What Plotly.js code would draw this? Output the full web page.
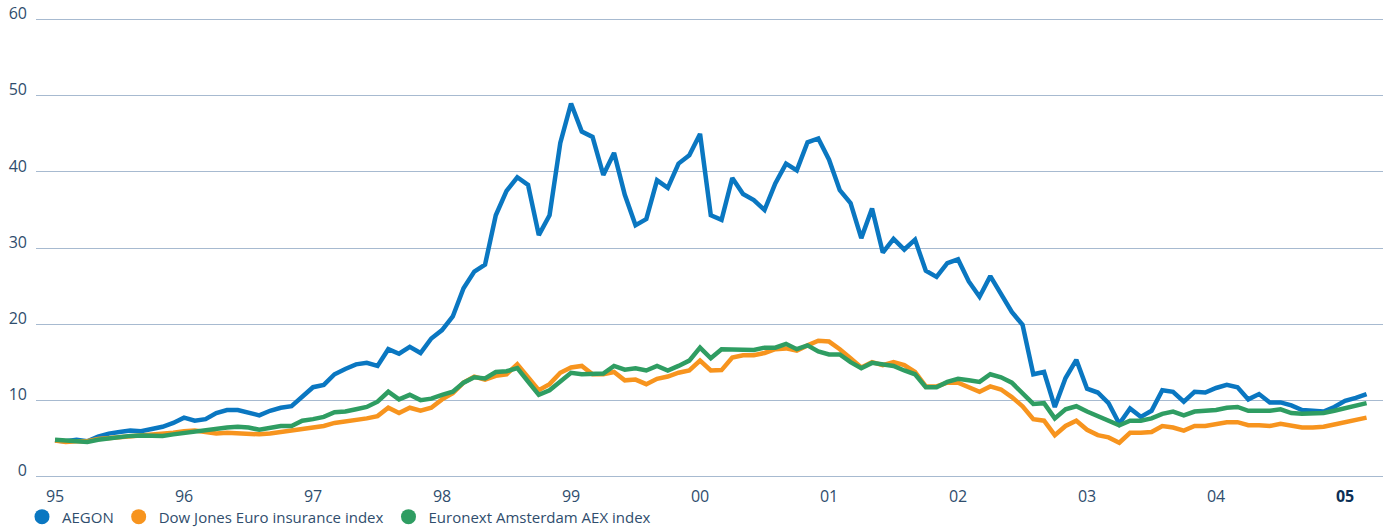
<!DOCTYPE html>
<html>
<head>
<meta charset="utf-8">
<script src="https://cdn.plot.ly/plotly-3.0.1.min.js"></script>
<style>
html,body{margin:0;padding:0;background:#fff;}
#chart{width:1394px;height:531px;}
</style>
</head>
<body>
<div id="chart"></div>
<script>
// Monthly values, January 1995 to March 2005
var yearLabels = ['95','96','97','98','99','00','01','02','03','04','05'];

var aegon = [
 4.7,4.6,4.8,4.6,5.2,5.6,5.8,6.0,5.9,6.2,6.5,7.0,
 7.7,7.3,7.5,8.3,8.7,8.7,8.3,8.0,8.6,9.0,9.2,10.4,
 11.7,12.0,13.4,14.1,14.7,14.9,14.5,16.7,16.1,17.0,16.2,18.1,
 19.2,21.0,24.7,26.9,27.8,34.3,37.5,39.3,38.3,31.7,34.3,43.8,
 49.0,45.3,44.6,39.6,42.5,37.0,33.0,33.8,38.9,37.9,41.1,42.2,
 45.0,34.3,33.7,39.2,37.1,36.3,35.0,38.5,41.1,40.2,43.9,44.4,
 41.6,37.6,35.9,31.3,35.2,29.4,31.2,29.8,31.1,27.0,26.2,28.0,
 28.5,25.6,23.6,26.3,23.9,21.6,19.9,13.4,13.7,9.1,12.9,15.3,
 11.5,11.0,9.6,6.9,8.9,7.8,8.6,11.3,11.1,9.8,11.1,11.0,
 11.6,12.0,11.7,10.1,10.8,9.7,9.7,9.3,8.7,8.6,8.5,9.1,
 9.9,10.3,10.8
];

var dowJones = [
 4.7,4.5,4.6,4.6,4.9,5.0,5.2,5.3,5.4,5.5,5.6,5.7,
 5.9,6.0,5.8,5.6,5.7,5.6,5.5,5.5,5.6,5.8,5.9,6.2,
 6.4,6.6,7.0,7.2,7.3,7.6,7.9,9.0,8.3,9.0,8.6,9.0,
 10.1,10.9,12.3,13.1,12.7,13.2,13.4,14.7,13.0,11.3,12.1,13.6,
 14.3,14.5,13.4,13.4,13.7,12.6,12.7,12.1,12.8,13.1,13.6,13.9,
 15.2,13.9,13.95,15.6,15.9,15.9,16.2,16.7,16.8,16.5,17.2,17.8,
 17.7,16.7,15.5,14.3,15.0,14.6,15.0,14.6,13.7,11.8,11.8,12.3,
 12.3,11.7,11.1,11.8,11.4,10.4,9.2,7.5,7.3,5.4,6.6,7.3,
 6.1,5.4,5.1,4.4,5.7,5.7,5.8,6.6,6.4,6.0,6.6,6.6,
 6.9,7.1,7.1,6.7,6.7,6.6,6.9,6.6,6.4,6.4,6.5,6.8,
 7.1,7.3,7.7
];

var aex = [
 4.8,4.7,4.7,4.5,4.8,5.0,5.1,5.3,5.35,5.35,5.3,5.5,
 5.7,5.8,6.0,6.2,6.4,6.5,6.4,6.1,6.3,6.6,6.6,7.3,
 7.5,7.8,8.4,8.5,8.8,9.1,9.8,11.1,10.1,10.7,10.0,10.2,
 10.7,11.1,12.3,13.0,12.85,13.7,13.8,14.2,12.45,10.7,11.3,12.4,
 13.6,13.4,13.5,13.5,14.5,14.0,14.2,13.9,14.5,13.9,14.5,15.2,
 16.9,15.5,16.7,16.7,16.7,16.6,16.9,16.9,17.4,16.7,17.2,16.4,
 16.0,16.0,15.0,14.2,14.9,14.7,14.5,13.9,13.4,11.7,11.7,12.4,
 12.8,12.6,12.4,13.4,13.0,12.3,10.9,9.5,9.6,7.6,8.8,9.2,
 8.5,7.9,7.4,6.7,7.3,7.3,7.6,8.2,8.5,8.0,8.5,8.6,
 8.7,9.0,9.1,8.6,8.6,8.6,8.8,8.3,8.2,8.2,8.3,8.6,
 8.9,9.2,9.6
];

var seriesNames = ['AEGON','Dow Jones Euro insurance index','Euronext Amsterdam AEX index'];
var seriesColors = ['#0a77c1','#f7941e','#2f9d62'];

// month index positions on the x axis
var months = aegon.map(function(_, i){ return i; });
var tickVals = yearLabels.map(function(_, k){ return k * 12; });
var tickText = yearLabels.map(function(t, k){
  return k === yearLabels.length - 1 ? '<b><span style="color:#0d2f55">' + t + '</span></b>' : t;
});

var data = [aegon, dowJones, aex];
var traces = [];
data.forEach(function(vals, k){
  traces.push({
    x: months, y: vals, type: 'scatter', mode: 'lines',
    line: {color: seriesColors[k], width: 4.5, shape: 'linear'},
    showlegend: false, hoverinfo: 'skip'
  });
});
seriesNames.forEach(function(name, k){
  traces.push({
    x: [null], y: [null], type: 'scatter', mode: 'markers', name: name,
    marker: {color: seriesColors[k], size: 15, symbol: 'circle'},
    showlegend: true
  });
});

var fontFamily = '"Open Sans", "Noto Sans", sans-serif';
var textColor = '#2f4d6d';

var layout = {
  width: 1394, height: 531,
  margin: {l: 36, r: 11, t: 16.2, b: 51.2, pad: 0, autoexpand: false},
  paper_bgcolor: '#ffffff', plot_bgcolor: '#ffffff',
  showlegend: true,
  legend: {
    orientation: 'h', x: -0.0104, xanchor: 'left', y: -0.044, yanchor: 'top',
    font: {family: fontFamily, size: 15, color: textColor},
    itemwidth: 30, tracegroupgap: 0, bgcolor: 'rgba(0,0,0,0)'
  },
  xaxis: {
    range: [-1.77, 123.53], showgrid: false, zeroline: false, showline: false,
    tickmode: 'array', tickvals: tickVals, ticktext: tickText,
    ticks: 'outside', ticklen: 2, tickcolor: 'rgba(0,0,0,0)',
    tickfont: {family: fontFamily, size: 16, color: textColor},
    fixedrange: true, automargin: false
  },
  yaxis: {
    range: [-0.5, 60.5], tickmode: 'array', tickvals: [0,10,20,30,40,50,60],
    ticktext: ['0','10','20','30','40','50','60'],
    showgrid: true, gridcolor: '#a7bad0', gridwidth: 1,
    zeroline: true, zerolinecolor: '#a7bad0', zerolinewidth: 1,
    showline: false, ticks: '', ticklabelstandoff: 8, ticklabelshift: -6,
    tickfont: {family: fontFamily, size: 16, color: textColor},
    fixedrange: true, automargin: false
  }
};

Plotly.newPlot('chart', traces, layout, {displayModeBar: false, staticPlot: true});
</script>
</body>
</html>
